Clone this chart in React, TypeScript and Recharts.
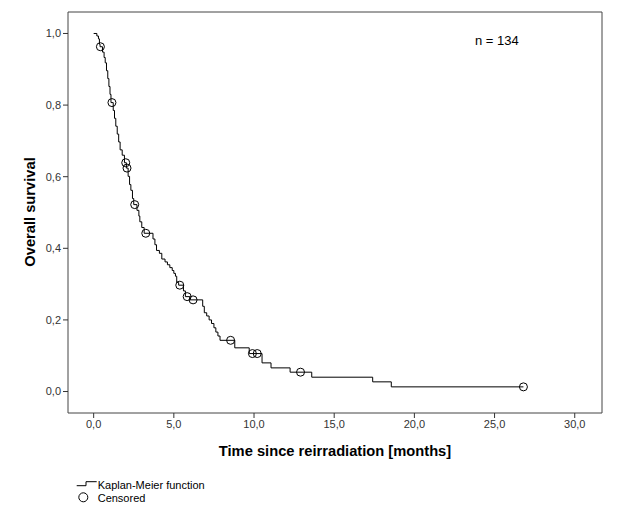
import React from "react";
import {
  ComposedChart,
  Line,
  Scatter,
  XAxis,
  YAxis,
  ReferenceArea,
} from "recharts";

const eventTimes = [
  0, 0.2, 0.3, 0.36, 0.4, 0.55, 0.65, 0.72, 0.8, 0.88, 0.95, 1.02, 1.08, 1.22,
  1.3, 1.38, 1.47, 1.56, 1.65, 1.78, 1.92, 2.04, 2.15, 2.24, 2.32, 2.42, 2.5,
  2.7, 2.82, 2.88, 3.0, 3.15, 3.7, 3.82, 3.92, 4.1, 4.25, 4.45, 4.6, 4.75, 4.9,
  5.0, 5.1, 5.18, 5.3, 5.6, 5.72, 6.0, 6.8, 6.9, 7.05, 7.2, 7.35, 7.5, 7.62,
  7.75, 7.88, 8.8, 9.7, 10.5, 11.06, 12.25, 13.6, 17.4, 18.56, 26.8,
];
const survivalValues = [
  1.0, 0.993, 0.985, 0.97, 0.963, 0.948, 0.933, 0.918, 0.896, 0.874, 0.852,
  0.83, 0.807, 0.785, 0.763, 0.741, 0.719, 0.697, 0.675, 0.66, 0.639, 0.624,
  0.601, 0.578, 0.562, 0.539, 0.522, 0.506, 0.49, 0.474, 0.458, 0.442, 0.426,
  0.41, 0.394, 0.386, 0.37, 0.362, 0.354, 0.346, 0.338, 0.33, 0.322, 0.305,
  0.297, 0.281, 0.265, 0.256, 0.238, 0.22, 0.211, 0.2, 0.19, 0.178, 0.166,
  0.155, 0.143, 0.122, 0.106, 0.08, 0.066, 0.054, 0.04, 0.027, 0.013, 0.013,
];
const censorTimes = [
  0.42, 1.14, 2.0, 2.08, 2.56, 3.25, 5.37, 5.83, 6.2, 8.54, 9.9, 10.2, 12.9,
  26.8,
];
const censorValues = [
  0.963, 0.807, 0.639, 0.624, 0.522, 0.442, 0.297, 0.265, 0.256, 0.143, 0.106,
  0.106, 0.054, 0.013,
];
const xTicks = [0, 5, 10, 15, 20, 25, 30];
const yTicks = [0, 0.2, 0.4, 0.6, 0.8, 1.0];

const kmData = eventTimes.map((t, i) => ({ t, s: survivalValues[i] }));
const censorData = censorTimes.map((t, i) => ({ t, s: censorValues[i] }));

const FONT = "'Liberation Sans', Arial, sans-serif";
const fmt = (v: number) => v.toFixed(1).replace(".", ",");

const CensorShape = (props: any) => {
  const { cx, cy } = props;
  return <circle cx={cx} cy={cy} r={4} fill="none" stroke="#000" strokeWidth={1} />;
};

export default function App() {
  return (
    <div style={{ position: "relative", width: 610, height: 511, fontFamily: FONT }}>
      <ComposedChart
        width={610}
        height={511}
        margin={{ top: 4, right: 16, left: 0, bottom: 56 }}
      >
        <XAxis
          type="number"
          dataKey="t"
          domain={[-1.6, 31.7]}
          ticks={xTicks}
          allowDataOverflow
          tickFormatter={fmt}
          axisLine={false}
          tickSize={5}
          tickMargin={2}
          height={50}
          stroke="#333"
          tick={{ fontSize: 11, fill: "#333", fontFamily: FONT }}
        />
        <YAxis
          type="number"
          dataKey="s"
          domain={[-0.06, 1.06]}
          ticks={yTicks}
          allowDataOverflow
          tickFormatter={fmt}
          axisLine={false}
          tickSize={5}
          tickMargin={2}
          width={60}
          stroke="#333"
          tick={{ fontSize: 11, fill: "#333", fontFamily: FONT }}
        />
        <ReferenceArea
          x1={-1.6}
          x2={31.7}
          y1={-0.06}
          y2={1.06}
          fill="none"
          stroke="#444"
          strokeWidth={1}
          ifOverflow="visible"
        />
        <Line
          data={kmData}
          dataKey="s"
          type="stepAfter"
          stroke="#000"
          strokeWidth={1}
          dot={false}
          isAnimationActive={false}
        />
        <Scatter
          data={censorData}
          dataKey="s"
          shape={<CensorShape />}
          isAnimationActive={false}
        />
      </ComposedChart>
      <svg
        width={610}
        height={511}
        style={{ position: "absolute", left: 0, top: 0, pointerEvents: "none" }}
      >
        <text x={467} y={37} fontSize={13} fill="#000" fontFamily={FONT}>
          n = 134
        </text>
        <text
          x={327}
          y={448}
          fontSize={14.7}
          fontWeight="bold"
          textAnchor="middle"
          fill="#000"
          fontFamily={FONT}
        >
          Time since reirradiation [months]
        </text>
        <text
          transform="translate(27,204) rotate(-90)"
          fontSize={14.7}
          fontWeight="bold"
          textAnchor="middle"
          fill="#000"
          fontFamily={FONT}
        >
          Overall survival
        </text>
        <path d="M68.7,477.7 H78 V473.7 H88.7" fill="none" stroke="#000" strokeWidth={1} />
        <text x={89.7} y={480.5} fontSize={11} fill="#000" fontFamily={FONT}>
          Kaplan-Meier function
        </text>
        <circle cx={75.3} cy={489.3} r={4.5} fill="none" stroke="#000" strokeWidth={1} />
        <text x={89.7} y={493.5} fontSize={11} fill="#000" fontFamily={FONT}>
          Censored
        </text>
      </svg>
    </div>
  );
}
